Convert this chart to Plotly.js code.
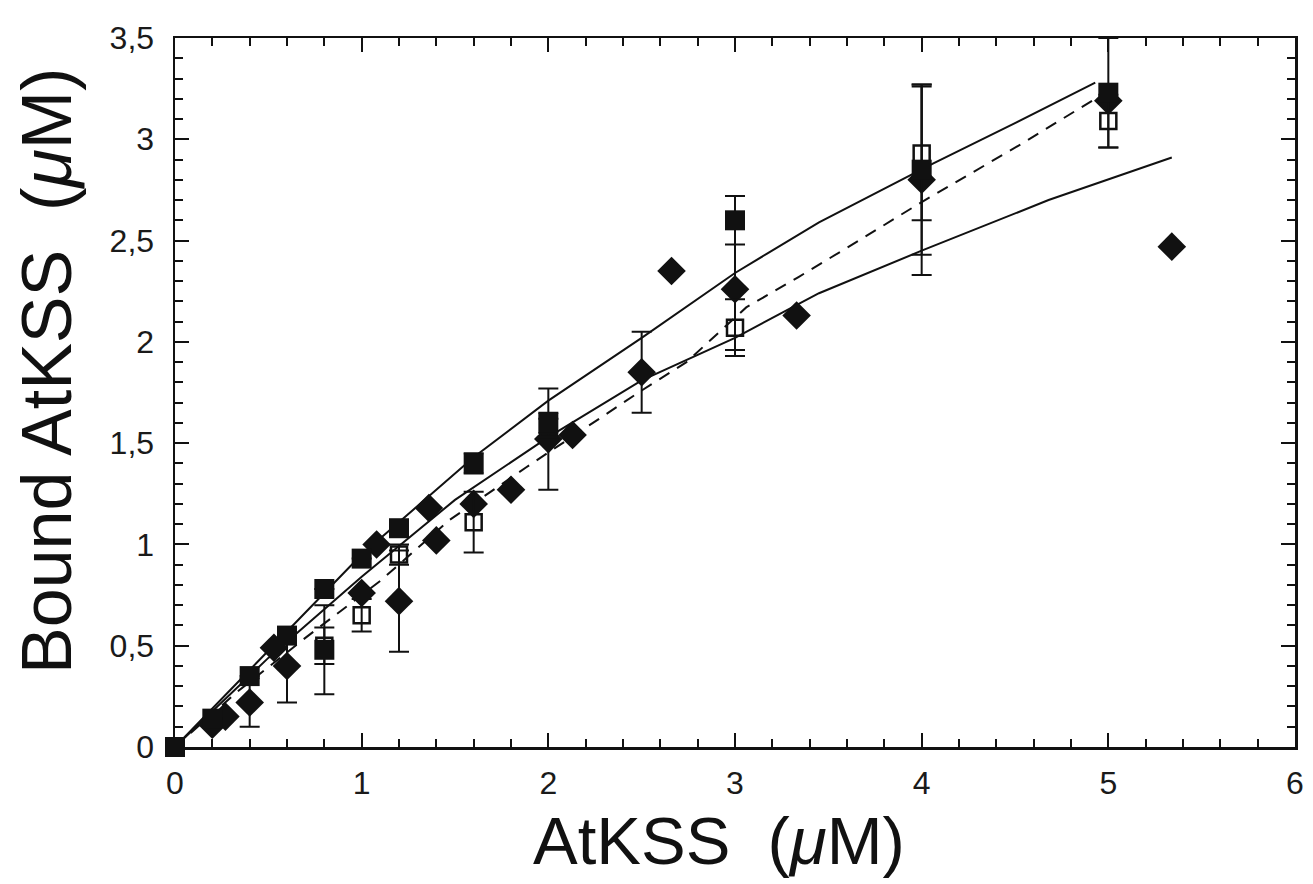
<!DOCTYPE html>
<html>
<head>
<meta charset="utf-8">
<script src="https://cdn.plot.ly/plotly-3.0.1.min.js"></script>
<style>html,body{margin:0;padding:0;background:#fff;}#chart{width:1313px;height:884px;}</style>
</head>
<body>
<div id="chart"></div>
<script>
// Filled squares
const sqX   = [0, 0.2, 0.4, 0.6, 0.8, 0.8, 1.0, 1.2, 1.6, 2.0, 3.0, 4.0, 5.0];
const sqY   = [0, 0.14, 0.35, 0.55, 0.78, 0.48, 0.93, 1.08, 1.40, 1.60, 2.60, 2.85, 3.23];
const sqErr = [0, 0, 0, 0, 0, 0.22, 0, 0, 0.05, 0.05, 0.12, 0.42, 0.27];

// Open squares
const osX   = [0.8, 1.0, 1.2, 1.6, 2.0, 3.0, 4.0, 5.0];
const osY   = [0.50, 0.65, 0.95, 1.11, 1.57, 2.07, 2.93, 3.09];
const osErr = [0.09, 0.08, 0.05, 0.15, 0.05, 0.14, 0.33, 0.13];

// Filled diamonds
const dX   = [0.2, 0.27, 0.4, 0.53, 0.6, 1.0, 1.08, 1.2, 1.36, 1.40, 1.6, 1.8, 2.0, 2.13, 2.5, 2.66, 3.0, 3.33, 4.0, 5.0, 5.34];
const dY   = [0.11, 0.15, 0.22, 0.49, 0.40, 0.76, 1.00, 0.72, 1.18, 1.02, 1.20, 1.27, 1.52, 1.54, 1.85, 2.35, 2.26, 2.13, 2.80, 3.19, 2.47];
const dErr = [0, 0, 0.12, 0, 0.18, 0, 0, 0.25, 0, 0, 0, 0, 0.25, 0, 0.20, 0, 0.30, 0, 0.47, 0, 0];

// Fit curves
const upX = [0, 0.4, 1.0, 1.6, 2.0, 2.5, 3.0, 3.45, 4.06, 4.5, 4.93];
const upY = [0, 0.38, 0.95, 1.43, 1.71, 2.02, 2.34, 2.59, 2.88, 3.08, 3.28];
const loX = [0, 0.5, 1.0, 1.5, 2.0, 2.5, 3.0, 3.45, 4.0, 4.68, 5.34];
const loY = [0, 0.44, 0.84, 1.22, 1.53, 1.81, 2.02, 2.24, 2.45, 2.70, 2.91];
const dsX = [0, 0.33, 0.7, 1.1, 1.47, 1.88, 2.5, 2.74, 3.06, 3.34, 3.61, 4.0, 4.54, 4.93];
const dsY = [0, 0.27, 0.54, 0.82, 1.12, 1.38, 1.76, 1.90, 2.17, 2.32, 2.47, 2.69, 2.98, 3.20];

// Tick labels and titles
const xTickVals = [0, 1, 2, 3, 4, 5, 6];
const xTickText = ['0', '1', '2', '3', '4', '5', '6'];
const yTickVals = [0, 0.5, 1, 1.5, 2, 2.5, 3, 3.5];
const yTickText = ['0', '0,5', '1', '1,5', '2', '2,5', '3', '3,5'];
const xTitle = 'AtKSS  (<i>μ</i>M)';
const yTitle = 'Bound AtKSS  (<i>μ</i>M)';

const ink = '#111';
const errStyle = {type: 'data', visible: true, color: ink, thickness: 2, width: 10};

const traces = [
  {x: upX, y: upY, mode: 'lines', line: {color: ink, width: 2}, hoverinfo: 'skip'},
  {x: loX, y: loY, mode: 'lines', line: {color: ink, width: 2}, hoverinfo: 'skip'},
  {x: dsX, y: dsY, mode: 'lines', line: {color: ink, width: 2, dash: '12px,9px'}, hoverinfo: 'skip'},
  {x: dX, y: dY, mode: 'markers', cliponaxis: false,
   marker: {symbol: 'diamond', size: 22, color: ink},
   error_y: Object.assign({array: dErr}, errStyle)},
  {x: osX, y: osY, mode: 'markers', cliponaxis: false,
   marker: {symbol: 'square-open', size: 16, color: ink, line: {width: 2.5, color: ink}},
   error_y: Object.assign({array: osErr}, errStyle)},
  {x: sqX, y: sqY, mode: 'markers', cliponaxis: false,
   marker: {symbol: 'square', size: 20, color: ink},
   error_y: Object.assign({array: sqErr}, errStyle)}
];

const font = 'Liberation Sans, Arial, Helvetica, sans-serif';

const layout = {
  width: 1313, height: 884,
  margin: {l: 175, r: 18, t: 38, b: 137},
  paper_bgcolor: '#fff', plot_bgcolor: '#fff',
  showlegend: false,
  font: {family: font, color: '#1a1a1a'},
  xaxis: {
    range: [0, 6], tickvals: xTickVals, ticktext: xTickText,
    ticks: 'inside', ticklen: 14, tickwidth: 2, tickcolor: ink,
    showline: true, linewidth: 2.5, linecolor: ink, mirror: 'ticks',
    showgrid: false, zeroline: false,
    minor: {ticks: 'inside', tick0: 0, dtick: 0.2, ticklen: 8, tickwidth: 2, tickcolor: ink, showgrid: false},
    tickfont: {size: 32, family: font, color: '#1a1a1a'},
    ticklabelstandoff: 6
  },
  yaxis: {
    range: [0, 3.5], tickvals: yTickVals, ticktext: yTickText,
    ticks: 'inside', ticklen: 14, tickwidth: 2, tickcolor: ink,
    showline: true, linewidth: 2.5, linecolor: ink, mirror: 'ticks',
    showgrid: false, zeroline: false,
    minor: {ticks: 'inside', tick0: 0, dtick: 0.1, ticklen: 8, tickwidth: 2, tickcolor: ink, showgrid: false},
    tickfont: {size: 32, family: font, color: '#1a1a1a'},
    ticklabelstandoff: 12
  },
  annotations: [
    {text: xTitle, xref: 'paper', yref: 'paper', x: 0.318, y: -0.0765,
     xanchor: 'left', yanchor: 'top', showarrow: false,
     font: {size: 67, family: font, color: '#111'}},
    {text: yTitle, xref: 'paper', yref: 'paper', x: -0.151, y: 0.10,
     xanchor: 'left', yanchor: 'bottom', textangle: -90, showarrow: false,
     font: {size: 70, family: font, color: '#111'}}
  ]
};

Plotly.newPlot('chart', traces, layout, {staticPlot: true, displayModeBar: false});
</script>
</body>
</html>
